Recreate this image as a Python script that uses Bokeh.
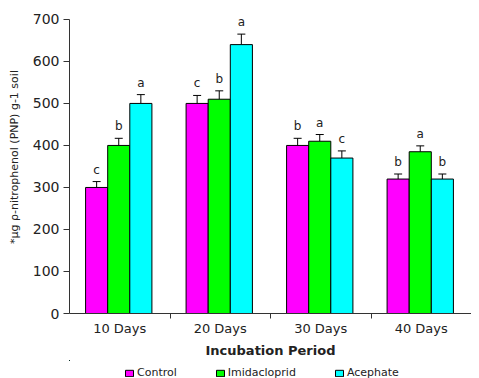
from bokeh.plotting import figure
from bokeh.layouts import column
from bokeh.models import (ColumnDataSource, FixedTicker, Legend, LegendItem,
                          Whisker, TeeHead, Range1d)
from bokeh.core.properties import value
from bokeh.embed import file_html
from bokeh.resources import INLINE

categories = ["10 Days", "20 Days", "30 Days", "40 Days"]
series = ["Control", "Imidacloprid", "Acephate"]
control = [300, 500, 400, 320]
imidacloprid = [400, 510, 410, 385]
acephate = [500, 640, 370, 320]
control_err = [14, 19, 17, 12]
imidacloprid_err = [17, 20, 16, 14]
acephate_err = [21, 25, 17, 12]
control_letters = ["c", "c", "b", "b"]
imidacloprid_letters = ["b", "b", "a", "a"]
acephate_letters = ["a", "a", "c", "b"]
y_ticks = [0, 100, 200, 300, 400, 500, 600, 700]

colors = ["#FF00FF", "#00FF00", "#00FFFF"]
values = [control, imidacloprid, acephate]
errors = [control_err, imidacloprid_err, acephate_err]
letters = [control_letters, imidacloprid_letters, acephate_letters]
bar_w = 0.22
offsets = [-bar_w, 0.0, bar_w]

FONT = "DejaVu Sans"

p = figure(frame_width=402, frame_height=313, output_backend="svg",
           toolbar_location=None,
           x_range=Range1d(0, 4), y_range=Range1d(0, 745),
           min_border_top=0, min_border_right=0, min_border_left=69,
           min_border_bottom=0)
p.outline_line_color = None
p.xgrid.visible = False
p.ygrid.visible = False
p.background_fill_color = "white"

# legend strip below the chart (its own small figure, same series data,
# with ranges that keep its bars out of view so only the legend shows)
lg = figure(width=471, height=20, output_backend="svg", toolbar_location=None,
            x_axis_type=None, y_axis_type=None,
            x_range=Range1d(100, 101), y_range=Range1d(-2000, -1000),
            min_border_top=0, min_border_right=0, min_border_left=0,
            min_border_bottom=0)
lg.outline_line_color = None
lg.xgrid.visible = False
lg.ygrid.visible = False

items = []
for i, name in enumerate(series):
    xs = [k + 0.49 + offsets[i] for k in range(len(categories))]
    tops = values[i]
    ups = [t + e for t, e in zip(tops, errors[i])]
    src = ColumnDataSource(dict(x=xs, top=tops, up=ups, lab=letters[i]))
    p.vbar(x="x", top="top", width=bar_w, source=src,
           fill_color=colors[i], line_color="black", line_width=1)
    w = Whisker(base="x", lower="top", upper="up", source=src,
                line_color="black", line_width=1,
                upper_head=TeeHead(size=8, line_color="black", line_width=1),
                lower_head=None)
    p.add_layout(w)
    p.text(x="x", y="up", text="lab", source=src, text_align="center",
           text_baseline="bottom", y_offset=-5, text_font=value(FONT),
           text_font_size="12px", text_color="#222222")
    r = lg.vbar(x="x", top="top", width=bar_w, source=src,
                fill_color=colors[i], line_color="black", line_width=1)
    items.append(LegendItem(label=name, renderers=[r]))

# y axis
p.yaxis.ticker = FixedTicker(ticks=y_ticks)
p.yaxis.bounds = (0, 700)
p.yaxis.major_tick_out = 6
p.yaxis.major_tick_in = 0
p.yaxis.minor_tick_line_color = None
p.yaxis.major_label_text_font = FONT
p.yaxis.major_label_text_font_size = "14px"
p.yaxis.major_label_text_color = "#222222"
p.yaxis.major_label_standoff = 4
p.yaxis.axis_line_color = "#333333"
p.yaxis.major_tick_line_color = "#333333"
p.yaxis.axis_label = "*\u00b5g \u03c1-nitrophenol (PNP) g-1 soil"
p.yaxis.axis_label_text_font = FONT
p.yaxis.axis_label_text_font_size = "11px"
p.yaxis.axis_label_text_font_style = "normal"
p.yaxis.axis_label_text_color = "#222222"
p.yaxis.axis_label_standoff = 9

# x axis: labels at group centres, ticks at group boundaries
centers = [k + 0.5 for k in range(len(categories))]
p.xaxis.ticker = FixedTicker(ticks=centers, minor_ticks=[1, 2, 3])
p.xaxis.major_label_overrides = {c: lab for c, lab in zip(centers, categories)}
p.xaxis.major_tick_line_color = None
p.xaxis.minor_tick_line_color = "#333333"
p.xaxis.minor_tick_out = 5
p.xaxis.minor_tick_in = 0
p.xaxis.axis_line_color = "#333333"
p.xaxis.major_label_text_font = FONT
p.xaxis.major_label_text_font_size = "13px"
p.xaxis.major_label_text_color = "#222222"
p.xaxis.major_label_standoff = 1
p.xaxis.axis_label = "Incubation Period"
p.xaxis.axis_label_text_font = FONT
p.xaxis.axis_label_text_font_size = "13px"
p.xaxis.axis_label_text_font_style = "bold"
p.xaxis.axis_label_text_color = "#222222"
p.xaxis.axis_label_standoff = 4

legend = Legend(items=items, orientation="horizontal", location=(55, 1),
                border_line_color=None, background_fill_alpha=0,
                glyph_width=10, glyph_height=8, label_text_font=FONT,
                label_text_font_size="11px", label_text_color="#222222",
                label_standoff=3, spacing=38, padding=0, margin=0,
                label_height=10)
lg.add_layout(legend, "center")

open("out.html", "w").write(file_html(column(p, lg), INLINE))
